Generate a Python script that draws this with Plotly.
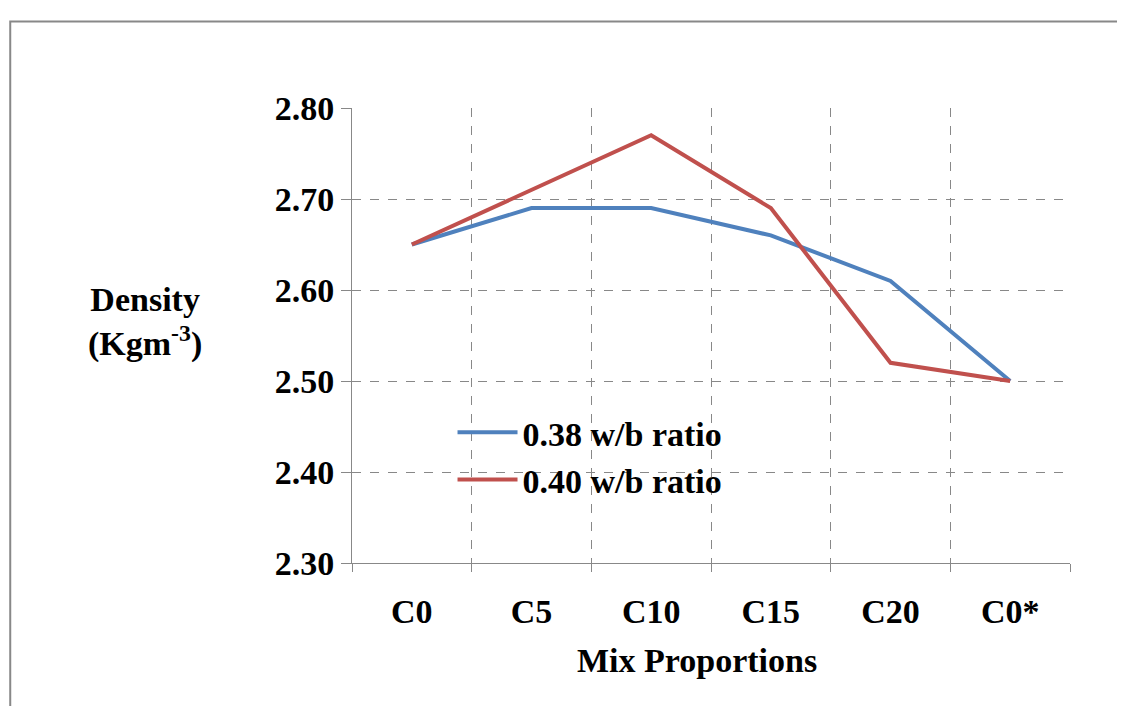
import plotly.graph_objects as go

categories = ["C0", "C5", "C10", "C15", "C20", "C0*"]
series_038 = [2.65, 2.69, 2.69, 2.66, 2.61, 2.50]
series_040 = [2.65, 2.71, 2.77, 2.69, 2.52, 2.50]
y_ticks = [2.30, 2.40, 2.50, 2.60, 2.70, 2.80]

x = list(range(len(categories)))
font = dict(family="Liberation Serif", size=34, color="black")

fig = go.Figure()
fig.add_trace(go.Scatter(x=x, y=series_038, mode="lines", name="<b>0.38 w/b ratio</b>",
                         line=dict(color="#4F81BD", width=4)))
fig.add_trace(go.Scatter(x=x, y=series_040, mode="lines", name="<b>0.40 w/b ratio</b>",
                         line=dict(color="#C0504D", width=4)))
fig.add_trace(go.Scatter(x=x, y=series_038, xaxis="x2", mode="lines",
                         line=dict(width=0), showlegend=False, hoverinfo="skip"))

fig.update_layout(
    width=1125, height=706, paper_bgcolor="white", plot_bgcolor="white",
    margin=dict(l=344, r=63, t=100, b=151, autoexpand=False),
    font=font,
    xaxis=dict(range=[-0.5, 5.5], tickvals=[i - 0.5 for i in range(7)], ticktext=[""] * 7,
               showgrid=True, gridcolor="#888", griddash="dash", gridwidth=1,
               showline=True, linecolor="#888", ticks="outside", ticklen=8, tickcolor="#888",
               zeroline=False, automargin=False),
    xaxis2=dict(range=[-0.5, 5.5], overlaying="x", side="bottom", tickvals=x,
                ticktext=[f"<b>{c}</b>" for c in categories],
                showgrid=False, showline=False, ticks="outside", ticklen=18, tickcolor="rgba(0,0,0,0)",
                zeroline=False, automargin=False, tickfont=font),
    yaxis=dict(range=[2.30, 2.80], tickvals=y_ticks, ticktext=[f"<b>{v:.2f}</b>" for v in y_ticks],
               showgrid=True, gridcolor="#888", griddash="dash", gridwidth=1,
               showline=True, linecolor="#888", ticks="outside", ticklen=10, tickcolor="#888",
               zeroline=False, automargin=False, tickfont=font),
    legend=dict(x=0.14, y=0.35, xanchor="left", yanchor="top", bgcolor="rgba(0,0,0,0)",
                font=font, itemwidth=60, tracegroupgap=18),
    showlegend=True,
)
fig.add_annotation(text="<b>Mix Proportions</b>", xref="paper", yref="paper", x=0.48, y=-0.215,
                   showarrow=False, font=font, yanchor="middle")
fig.add_annotation(text="<b>Density<br>(Kgm<sup>-3</sup>)</b>", xref="paper", yref="paper",
                   x=-0.37, y=0.53, showarrow=False, font=font, align="center")
fig.add_shape(type="rect", xref="paper", yref="paper", x0=-0.476, x1=1.1, y0=-0.33, y1=1.19,
              line=dict(color="#888", width=2))
fig.write_html("out.html")
